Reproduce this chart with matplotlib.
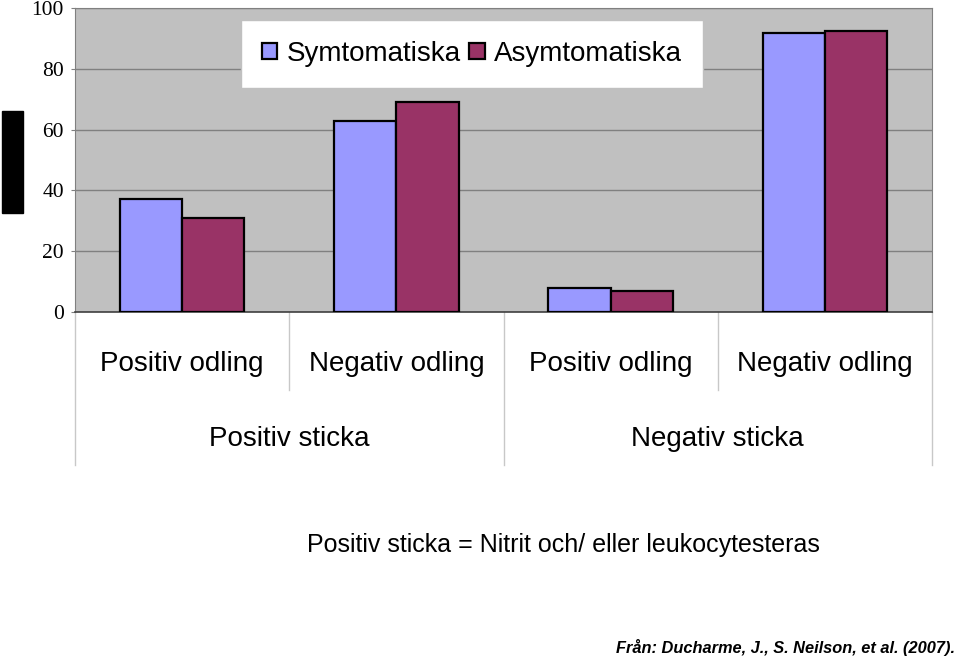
import matplotlib
matplotlib.use("Agg")
import matplotlib.pyplot as plt
from matplotlib.patches import Rectangle
import matplotlib.transforms as mtransforms
import numpy as np

# data
odling = ["Positiv odling", "Negativ odling", "Positiv odling", "Negativ odling"]
sticka = ["Positiv sticka", "Negativ sticka"]
symtomatiska = [37.2, 62.8, 7.9, 91.8]
asymtomatiska = [31.0, 69.0, 6.9, 92.5]
series_names = ["Symtomatiska", "Asymtomatiska"]
yticks = [0, 20, 40, 60, 80, 100]

sans = "Liberation Sans"

fig = plt.figure(figsize=(9.6, 6.58), dpi=100)
ax = fig.add_axes([75/960, 1-312/658, 857/960, 304/658])
ax.set_facecolor("#c0c0c0")

x = np.arange(len(odling)) + 0.5
w = 0.29
ax.bar(x - w/2, symtomatiska, w, color="#9999ff", edgecolor="black", lw=1.6, label=series_names[0], zorder=3)
ax.bar(x + w/2, asymtomatiska, w, color="#993366", edgecolor="black", lw=1.6, label=series_names[1], zorder=3)

ax.set_xlim(0, 4)
ax.set_ylim(0, 100)
ax.set_yticks(yticks)
ax.set_yticklabels([str(v) for v in yticks], family="Liberation Serif", fontsize=15.5)
ax.tick_params(axis="y", length=3, color="#808080", pad=5)
ax.set_xticks([])
ax.grid(axis="y", color="#808080", lw=1, zorder=1)
for s in ["top", "right", "left"]:
    ax.spines[s].set_color("#808080")
ax.spines["bottom"].set_color("#404040")
ax.spines["bottom"].set_linewidth(1.2)

# category axis: two levels of labels with divider lines
trans = mtransforms.blended_transform_factory(ax.transData, ax.transAxes)
for b in range(5):
    low = -0.503 if b % 2 == 0 else -0.257
    ax.plot([b, b], [0, low], color="#c8c8c8", lw=1, transform=trans, clip_on=False)
for i, lab in enumerate(odling):
    ax.text(x[i], -0.172, lab, transform=trans, ha="center", va="center",
            family=sans, fontsize=20)
for j, lab in enumerate(sticka):
    ax.text(2*j + 1, -0.418, lab, transform=trans, ha="center", va="center",
            family=sans, fontsize=20)

leg = ax.legend(loc="upper left", bbox_to_anchor=(166/857, 1-12/304), ncol=2,
                prop={"family": sans, "size": 20}, frameon=True, fancybox=False,
                handlelength=0.55, handleheight=0.55, handletextpad=0.35, columnspacing=0.3,
                borderpad=0.75, borderaxespad=0)
leg.get_frame().set_edgecolor("#c0c0c0")
leg.get_frame().set_facecolor("white")
leg.get_frame().set_alpha(1)

fig.patches.append(Rectangle((2/960, 1-213/658), 21/960, 102/658, color="black",
                             transform=fig.transFigure, figure=fig))

fig.text(563/960, 1-545/658, "Positiv sticka = Nitrit och/ eller leukocytesteras",
         ha="center", va="center", family=sans, fontsize=18)
fig.text(955/960, 1-648/658, "Från: Ducharme, J., S. Neilson, et al. (2007).",
         ha="right", va="center", family=sans, fontsize=11.8,
         fontweight="bold", style="italic")

fig.savefig("out.png", dpi=100)
